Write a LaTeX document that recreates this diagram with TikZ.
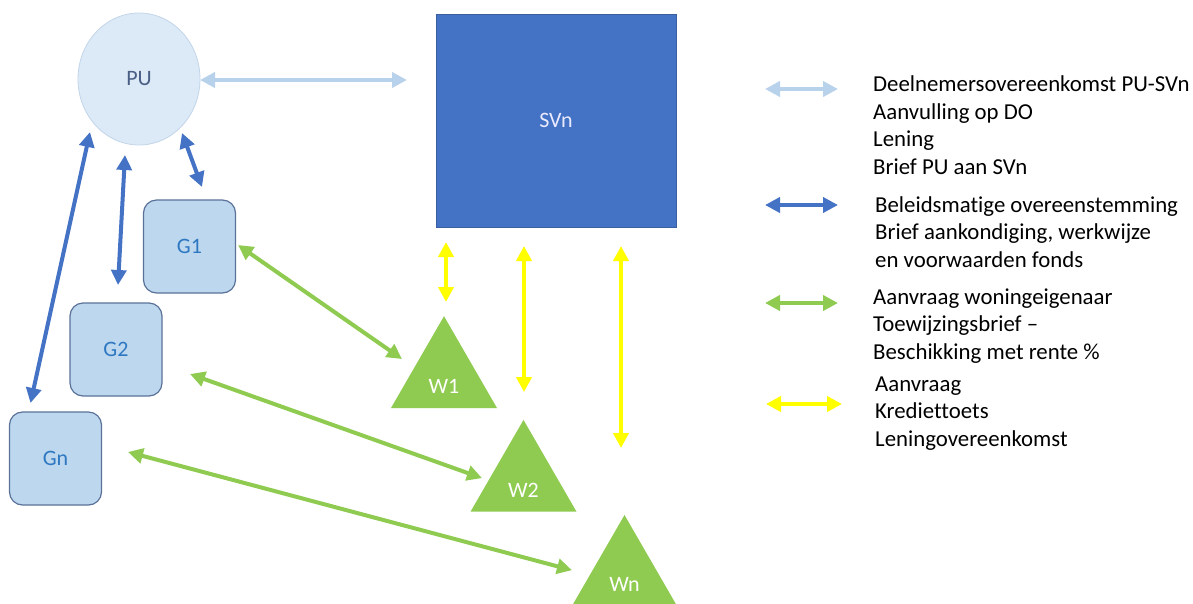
\documentclass[tikz,border=0pt]{standalone}
\usepackage{fontspec}
\setmainfont{Carlito}[Ligatures=NoCommon]
\usetikzlibrary{arrows.meta,calc,shapes.geometric}
\definecolor{pufill}{HTML}{DCE9F6}
\definecolor{puborder}{HTML}{C3D5EA}
\definecolor{putext}{HTML}{4A5F86}
\definecolor{svnfill}{HTML}{4472C4}
\definecolor{svnborder}{HTML}{3A5F9E}
\definecolor{gfill}{HTML}{BDD7EE}
\definecolor{gborder}{HTML}{5B7298}
\definecolor{gtext}{HTML}{2E78C2}
\definecolor{lightarrow}{HTML}{B8D2EC}
\definecolor{bluearrow}{HTML}{4472C4}
\definecolor{greenc}{HTML}{8FCB50}
\definecolor{yellowc}{HTML}{FFFF00}
\tikzset{
  nodefont/.style={font=\fontsize{22}{24}\selectfont},
  gbox/.style={rectangle, rounded corners=13pt, minimum width=92pt, minimum height=93pt,
    fill=gfill, draw=gborder, line width=1.2pt, text=gtext, nodefont},
  wtri/.style={regular polygon, regular polygon sides=3, minimum size=122.4pt,
    inner sep=0pt, fill=greenc, draw=none},
  wlabel/.style={text=white, nodefont, inner sep=0pt},
  biarrow/.style={line width=4pt, <->, >={Triangle[length=15pt,width=15pt]}},
  legendtext/.style={font=\fontsize{22.8}{27.4}\selectfont, align=left, anchor=base west, inner sep=0pt}
}
\begin{document}
\begin{tikzpicture}[x=1pt,y=-1pt]
\useasboundingbox (0,0) rectangle (1193,603);

% main nodes
\node[ellipse, minimum width=122pt, minimum height=132pt, inner sep=0pt,
  fill=pufill, draw=puborder, line width=0.8pt, text=putext, nodefont] (PU) at (139,79) {PU};
\node[rectangle, minimum width=240pt, minimum height=213pt, fill=svnfill, draw=svnborder,
  line width=1pt, text=white!92!blue, nodefont] (SVn) at (556,120.5) {SVn};
\node[gbox] (G1) at (189.5,246.5) {G1};
\node[gbox] (G2) at (116,349.5) {G2};
\node[gbox] (Gn) at (55.5,458.5) {Gn};

\node[wtri] (W1) at (444,377.4) {};
\node[wtri] (W2) at (523.5,481.1) {};
\node[wtri] (Wn) at (624.5,576.2) {};
\node[wlabel] (W1t) at (444,386) {W1};
\node[wlabel] (W2t) at (523.5,490) {W2};
\node[wlabel] (Wnt) at (624.5,584) {Wn};

% light blue
\draw[biarrow, lightarrow] ($(PU.center)+(61,1)$) -- ($(SVn.center)+(-149,-40.5)$);
% dark blue
\draw[biarrow, bluearrow] ($(PU.center)+(43,54)$) -- ($(G1.center)+(12.5,-59.5)$);
\draw[biarrow, bluearrow] ($(PU.center)+(-14,76)$) -- ($(G2.center)+(2,-64.5)$);
\draw[biarrow, bluearrow] ($(PU.center)+(-49,53)$) -- ($(Gn.center)+(-25,-55.5)$);
% green
\draw[biarrow, greenc] ($(G1.center)+(48.5,-1.5)$) -- ($(W1.center)+(-42,-18.4)$);
\draw[biarrow, greenc] ($(G2.center)+(74,24.5)$) -- ($(W2.center)+(-41.5,-3)$);
\draw[biarrow, greenc] ($(Gn.center)+(72.5,-6.5)$) -- ($(Wn.center)+(-52.5,-6)$);
% yellow
\draw[biarrow, yellowc] ($(SVn.center)+(-110,121.5)$) -- ($(W1.center)+(2,-75.4)$);
\draw[biarrow, yellowc] ($(SVn.center)+(-32,125.5)$) -- ($(W2.center)+(0.5,-89)$);
\draw[biarrow, yellowc] ($(SVn.center)+(65,125.5)$) -- ($(Wn.center)+(-3.5,-128.2)$);

% legend
\coordinate (L1a) at (765,89);  \coordinate (L1b) at (838,89);
\coordinate (L2a) at (765,205); \coordinate (L2b) at (838,205);
\coordinate (L3a) at (765,303); \coordinate (L3b) at (838,303);
\coordinate (L4a) at (766,404); \coordinate (L4b) at (842,404);
\draw[biarrow, lightarrow] (L1a) -- (L1b);
\draw[biarrow, bluearrow] (L2a) -- (L2b);
\draw[biarrow, greenc] (L3a) -- (L3b);
\draw[biarrow, yellowc] (L4a) -- (L4b);

% (base anchor = baseline of the last line)
\node[legendtext] (T1) at (873,174) {Deelnemersovereenkomst PU-SVn\\Aanvulling op DO\\Lening\\Brief PU aan SVn};
\node[legendtext] (T2) at (875,267.3) {Beleidsmatige overeenstemming\\Brief aankondiging, werkwijze\\en voorwaarden fonds};
\node[legendtext] (T3) at (873,359) {Aanvraag woningeigenaar\\Toewijzingsbrief –\\Beschikking met rente \%};
\node[legendtext] (T4) at (875,446) {Aanvraag\\Krediettoets\\Leningovereenkomst};
\end{tikzpicture}
\end{document}
